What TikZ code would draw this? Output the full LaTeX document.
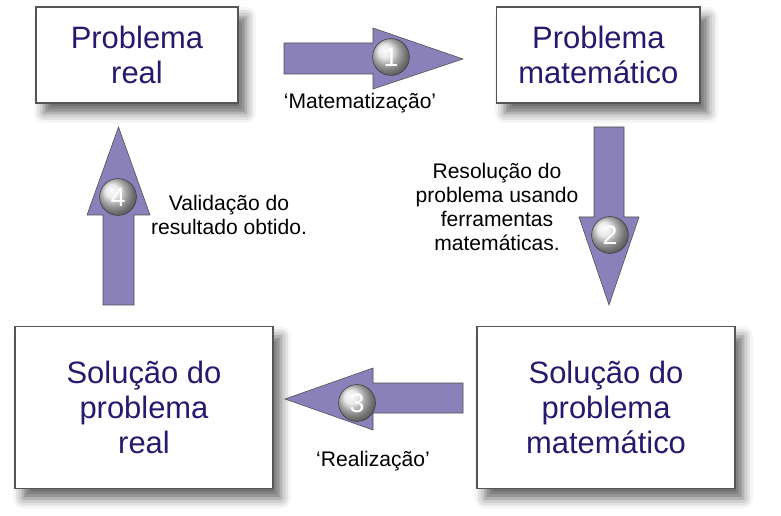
\documentclass[tikz,border=0pt]{standalone}
\usepackage{fontspec}
\setmainfont{Liberation Sans}
\usepackage{tikz}
\usetikzlibrary{shadows.blur}

\definecolor{arrowfill}{RGB}{139,129,186}
\definecolor{boxtext}{RGB}{40,25,110}
\definecolor{boxline}{RGB}{85,85,85}

\begin{document}
\begin{tikzpicture}[
  box/.style={draw=boxline, thick, fill=white, align=center, inner sep=0pt,
              text=boxtext, font=\fontsize{22}{25}\selectfont,
              blur shadow={shadow xshift=0.2cm, shadow yshift=-0.25cm,
                           shadow blur radius=0.25cm, shadow opacity=60}},
  bigarrow/.style={draw=gray!60!black, fill=arrowfill, line join=miter},
  num/.style={circle, draw=gray!45!black, shading=ball, ball color=gray!22,
              minimum size=0.92cm, inner sep=0pt, text=white,
              font=\fontsize{19}{19}\selectfont},
  lbl/.style={align=center, font=\fontsize{15}{17}\selectfont}
]
\useasboundingbox (0,0) rectangle (19.525,12.875);

%% boxes
\node[box, minimum width=5.05cm, minimum height=2.4cm]
      (real)    at (3.425,11.5)  {Problema\\real};
\node[box, minimum width=5.08cm, minimum height=2.4cm]
      (mat)     at (14.96,11.5)  {Problema\\matemático};
\node[box, minimum width=6.45cm, minimum height=4.05cm]
      (solmat)  at (15.15,2.6875) {Solução do\\problema\\matemático};
\node[box, minimum width=6.45cm, minimum height=4.05cm]
      (solreal) at (3.6,2.6875)  {Solução do\\problema\\real};

%% block arrows
% 1: real -> mat
\draw[bigarrow] (7.1,11.8) -- (9.325,11.8) -- (9.325,12.175) -- (11.575,11.4)
      -- (9.325,10.65) -- (9.325,11.025) -- (7.1,11.025) -- cycle;
% 2: mat -> solmat
\draw[bigarrow] (14.85,9.7) -- (15.6,9.7) -- (15.6,7.45) -- (15.975,7.45)
      -- (15.225,5.25) -- (14.475,7.45) -- (14.85,7.45) -- cycle;
% 3: solmat -> solreal
\draw[bigarrow] (11.575,3.3) -- (9.325,3.3) -- (9.325,3.675) -- (7.125,2.9)
      -- (9.325,2.125) -- (9.325,2.55) -- (11.575,2.55) -- cycle;
% 4: solreal -> real
\draw[bigarrow] (2.575,5.25) -- (2.575,7.5) -- (2.175,7.5) -- (2.9625,9.7)
      -- (3.75,7.5) -- (3.35,7.5) -- (3.35,5.25) -- cycle;

%% numbers
\node[num] (n1) at (9.775,11.45) {1};
\node[num] (n2) at (15.25,7.0)   {2};
\node[num] (n3) at (8.925,2.8)   {3};
\node[num] (n4) at (2.95,7.95)   {4};

%% labels
\node[lbl] (l1) at (9.0,10.3)   {‘Matematização’};
\node[lbl] (l2) at (12.425,7.7) {Resolução do\\problema usando\\ferramentas\\matemáticas.};
\node[lbl] (l3) at (9.325,1.35) {‘Realização’};
\node[lbl] (l4) at (5.725,7.5)  {Validação do\\resultado obtido.};

\end{tikzpicture}
\end{document}
